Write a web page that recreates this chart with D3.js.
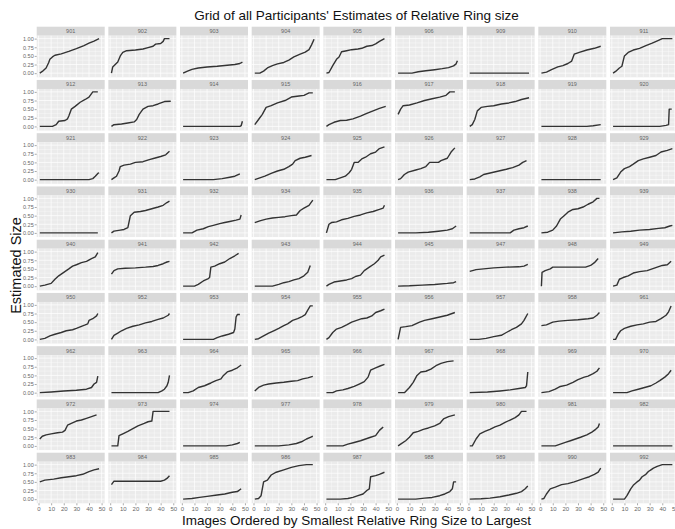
<!DOCTYPE html>
<html>
<head>
<meta charset="utf-8">
<title>Grid of all Participants' Estimates of Relative Ring size</title>
<script src="https://d3js.org/d3.v7.min.js"></script>
<style>
body { margin: 0; background: #fff; }
text { font-family: "Liberation Sans", Arial, sans-serif; }
</style>
</head>
<body>
<div id="chart"></div>
<script>

// participant ids, panel order (9 per row)
var participants = [901, 902, 903, 904, 905, 906, 909, 910, 911,
                    912, 913, 914, 915, 916, 917, 918, 919, 920,
                    921, 922, 923, 924, 925, 926, 927, 928, 929,
                    930, 931, 932, 934, 935, 936, 937, 938, 939,
                    940, 941, 942, 943, 944, 945, 947, 948, 949,
                    950, 952, 953, 954, 955, 956, 957, 958, 961,
                    962, 963, 964, 965, 966, 967, 968, 969, 970,
                    972, 973, 974, 977, 978, 979, 980, 981, 982,
                    983, 984, 985, 986, 987, 988, 989, 990, 992];

// estimated size per image rank as [rank, size]
var row1 = [
  [[1,0],[3,0.05],[6,0.15],[8,0.3],[9,0.4],[11,0.47],[13,0.52],[18,0.56],[24,0.63],[30,0.71],[36,0.8],[40,0.87],[44,0.93],[48,1]],
  [[1,0],[2,0.18],[4,0.25],[6,0.32],[8,0.5],[10,0.6],[13,0.65],[20,0.67],[26,0.7],[30,0.74],[34,0.78],[36,0.84],[40,0.86],[42,0.92],[43,1],[47,1]],
  [[1,0],[4,0.05],[8,0.11],[13,0.15],[20,0.18],[28,0.2],[36,0.23],[42,0.25],[46,0.28],[48,0.32]],
  [[1,0],[5,0],[8,0.06],[11,0.15],[15,0.22],[19,0.27],[24,0.31],[28,0.38],[32,0.47],[37,0.55],[41,0.61],[44,0.68],[46,0.82],[48,0.98]],
  [[1,0],[3,0.02],[6,0.22],[9,0.4],[11,0.47],[13,0.62],[17,0.65],[21,0.68],[26,0.7],[29,0.72],[33,0.78],[37,0.8],[40,0.85],[43,0.92],[47,1]],
  [[1,0],[12,0],[17,0.04],[23,0.07],[30,0.1],[36,0.13],[41,0.16],[45,0.21],[47,0.27],[48,0.36]],
  [[1,0],[48,0]],
  [[1,0],[5,0.03],[9,0.1],[14,0.18],[18,0.22],[22,0.28],[25,0.35],[27,0.55],[31,0.6],[37,0.67],[43,0.72],[48,0.78]],
  [[1,0],[3,0.05],[6,0.15],[8,0.2],[10,0.5],[13,0.6],[17,0.67],[22,0.72],[27,0.8],[32,0.87],[37,0.95],[40,1],[48,1]]
];
var row2 = [
  [[1,0],[11,0],[14,0.05],[16,0.15],[21,0.17],[23,0.22],[24,0.3],[26,0.5],[29,0.58],[33,0.7],[37,0.78],[40,0.85],[43,1],[47,1]],
  [[1,0],[3,0.05],[9,0.07],[14,0.1],[19,0.13],[21,0.2],[23,0.35],[26,0.5],[30,0.58],[34,0.6],[38,0.65],[43,0.72],[48,0.73]],
  [[1,0],[46,0],[47,0.02],[48,0.15]],
  [[1,0.05],[4,0.2],[7,0.35],[10,0.55],[14,0.6],[19,0.68],[25,0.75],[30,0.85],[36,0.88],[40,0.9],[44,0.97],[47,0.97]],
  [[1,0],[3,0.05],[7,0.12],[12,0.17],[17,0.18],[22,0.22],[28,0.3],[33,0.38],[38,0.45],[43,0.52],[48,0.58]],
  [[1,0.35],[3,0.5],[5,0.6],[10,0.62],[16,0.68],[22,0.75],[28,0.8],[34,0.85],[39,0.9],[42,1],[46,1]],
  [[1,0],[3,0.05],[5,0.2],[7,0.45],[10,0.55],[15,0.58],[20,0.6],[26,0.65],[32,0.68],[37,0.72],[42,0.78],[48,0.83]],
  [[1,0],[37,0],[42,0.02],[48,0.05]],
  [[1,0],[38,0],[43,0.03],[45,0.05],[45.5,0.5],[47.5,0.5]]
];
var row3 = [
  [[1,0],[40,0],[43,0.03],[45,0.1],[47,0.18],[48,0.2]],
  [[1,0],[3,0.05],[5,0.1],[7,0.25],[8,0.38],[11,0.42],[16,0.45],[20,0.5],[26,0.52],[31,0.58],[35,0.62],[40,0.67],[44,0.72],[47,0.82]],
  [[1,0],[25,0],[32,0.03],[38,0.07],[42,0.1],[46,0.17]],
  [[1,0],[5,0.05],[9,0.1],[14,0.18],[19,0.25],[24,0.3],[28,0.38],[31,0.45],[33,0.55],[37,0.62],[41,0.65],[46,0.7]],
  [[1,0],[8,0],[12,0.05],[16,0.1],[19,0.2],[21,0.3],[23,0.5],[26,0.5],[29,0.6],[32,0.65],[36,0.75],[40,0.8],[43,0.9],[47,0.95]],
  [[1,0],[3,0.03],[6,0.15],[9,0.22],[15,0.28],[19,0.32],[23,0.38],[26,0.5],[33,0.5],[35,0.55],[40,0.62],[43,0.8],[46,0.92]],
  [[1,0],[5,0.02],[9,0.08],[12,0.15],[18,0.2],[24,0.25],[30,0.3],[35,0.35],[40,0.42],[43,0.5],[46,0.55]],
  [[1,0],[48,0]],
  [[1,0],[4,0.05],[7,0.22],[10,0.32],[14,0.38],[17,0.45],[21,0.55],[25,0.6],[30,0.65],[35,0.7],[39,0.8],[44,0.85],[48,0.9]]
];
var row4 = [
  [[1,0],[47,0]],
  [[1,0],[3,0.05],[8,0.08],[11,0.1],[14,0.15],[16,0.5],[19,0.6],[24,0.62],[28,0.65],[33,0.7],[38,0.75],[42,0.8],[45,0.88],[47,0.92]],
  [[1,0],[8,0],[12,0.08],[17,0.12],[21,0.18],[25,0.22],[30,0.27],[34,0.3],[38,0.33],[43,0.37],[46,0.4],[47,0.52]],
  [[1,0.3],[5,0.35],[10,0.4],[15,0.43],[20,0.45],[25,0.47],[30,0.5],[34,0.52],[37,0.65],[40,0.72],[44,0.8],[47,0.95]],
  [[1,0],[3,0.25],[5,0.3],[9,0.32],[13,0.38],[18,0.42],[23,0.48],[28,0.52],[33,0.58],[38,0.62],[43,0.68],[46,0.72],[47,0.8]],
  [[1,0],[15,0],[25,0.02],[33,0.05],[40,0.08],[44,0.12],[47,0.2]],
  [[1,0],[33,0],[36,0.08],[40,0.12],[44,0.15],[47,0.2]],
  [[1,0],[6,0.02],[10,0.08],[13,0.2],[16,0.4],[19,0.5],[22,0.6],[26,0.68],[30,0.7],[34,0.75],[38,0.83],[42,0.9],[45,1],[47,1]],
  [[1,0],[8,0.03],[15,0.05],[22,0.08],[30,0.1],[37,0.13],[42,0.15],[46,0.2],[48,0.22]]
];
var row5 = [
  [[1,0],[5,0.03],[10,0.08],[13,0.2],[16,0.3],[20,0.4],[24,0.5],[27,0.58],[30,0.62],[34,0.68],[38,0.72],[42,0.8],[45,0.85],[47,0.97]],
  [[1,0.35],[3,0.45],[6,0.5],[12,0.52],[20,0.53],[28,0.55],[34,0.57],[38,0.6],[42,0.65],[45,0.7],[47,0.72]],
  [[1,0],[10,0],[13,0.05],[17,0.15],[21,0.22],[22,0.25],[23,0.55],[26,0.58],[30,0.65],[34,0.7],[38,0.8],[42,0.88],[45,0.95]],
  [[1,0],[15,0],[20,0.05],[24,0.1],[28,0.13],[32,0.18],[36,0.22],[40,0.3],[43,0.4],[45,0.6]],
  [[1,0],[3,0.05],[7,0.12],[12,0.15],[17,0.18],[21,0.22],[24,0.28],[28,0.32],[31,0.45],[35,0.55],[39,0.65],[42,0.75],[44,0.85],[47,0.9]],
  [[1,0],[10,0.01],[20,0.03],[30,0.05],[40,0.08],[45,0.1],[47,0.13]],
  [[1,0.43],[6,0.48],[12,0.5],[20,0.53],[30,0.55],[40,0.56],[44,0.58],[47,0.63]],
  [[1,0],[1.5,0.4],[4,0.45],[8,0.5],[10,0.55],[36,0.55],[40,0.6],[43,0.68],[46,0.8]],
  [[1,0],[4,0.03],[6,0.2],[9,0.25],[13,0.3],[17,0.38],[22,0.42],[28,0.45],[32,0.5],[36,0.55],[40,0.6],[44,0.62],[47,0.72]]
];
var row6 = [
  [[1,0],[5,0.03],[9,0.1],[13,0.15],[18,0.2],[22,0.25],[27,0.28],[30,0.32],[34,0.38],[37,0.42],[39,0.45],[40,0.55],[43,0.6],[46,0.68],[47,0.75]],
  [[1,0],[3,0.12],[6,0.18],[9,0.25],[13,0.32],[18,0.38],[23,0.42],[28,0.48],[33,0.52],[38,0.58],[42,0.62],[46,0.7],[47,0.75]],
  [[1,0],[25,0],[28,0.05],[32,0.1],[37,0.15],[41,0.2],[42,0.3],[43,0.65],[44,0.72],[46,0.72]],
  [[1,0],[4,0.02],[8,0.1],[12,0.18],[16,0.25],[20,0.32],[24,0.4],[27,0.45],[31,0.55],[35,0.6],[38,0.65],[41,0.72],[43,0.85],[45,0.97],[47,0.97]],
  [[1,0],[3,0.05],[6,0.2],[9,0.3],[13,0.35],[17,0.42],[21,0.5],[25,0.55],[29,0.6],[33,0.62],[37,0.68],[40,0.78],[44,0.83],[47,0.88]],
  [[1,0],[3,0.35],[7,0.37],[12,0.4],[15,0.45],[18,0.5],[22,0.55],[28,0.6],[34,0.65],[40,0.7],[46,0.78]],
  [[1,0],[8,0],[14,0.03],[20,0.08],[26,0.12],[30,0.2],[34,0.28],[38,0.35],[42,0.45],[44,0.55],[47,0.75]],
  [[1,0.4],[5,0.42],[10,0.5],[15,0.53],[22,0.55],[30,0.57],[38,0.6],[42,0.62],[45,0.7],[47,0.78]],
  [[1,0],[3,0],[5,0.15],[7,0.25],[10,0.32],[15,0.38],[20,0.42],[25,0.45],[30,0.5],[35,0.52],[39,0.6],[43,0.7],[45,0.8],[47,0.97]]
];
var row7 = [
  [[1,0],[10,0.02],[20,0.05],[30,0.07],[38,0.1],[42,0.15],[44,0.25],[46,0.3],[47,0.48]],
  [[1,0],[38,0],[41,0.05],[43,0.1],[45,0.2],[46,0.3],[47,0.5]],
  [[1,0],[5,0],[9,0.05],[13,0.15],[18,0.2],[23,0.28],[27,0.35],[31,0.4],[33,0.5],[36,0.6],[40,0.65],[44,0.72],[47,0.8]],
  [[1,0.05],[4,0.15],[8,0.22],[12,0.25],[18,0.28],[24,0.3],[30,0.33],[35,0.35],[39,0.4],[43,0.43],[47,0.47]],
  [[1,0],[6,0],[9,0.05],[14,0.08],[18,0.12],[23,0.18],[27,0.25],[31,0.32],[34,0.45],[36,0.65],[40,0.72],[44,0.78],[47,0.82]],
  [[1,0],[6,0],[10,0.15],[13,0.3],[16,0.5],[19,0.6],[23,0.62],[27,0.68],[31,0.78],[35,0.85],[40,0.9],[45,0.92]],
  [[1,0],[15,0.02],[25,0.05],[33,0.08],[40,0.12],[45,0.15],[46,0.2],[47,0.6]],
  [[1,0],[7,0.03],[12,0.1],[16,0.18],[21,0.22],[26,0.3],[30,0.38],[35,0.45],[38,0.48],[42,0.55],[45,0.62],[47,0.72]],
  [[1,0],[12,0],[16,0.05],[21,0.1],[26,0.15],[31,0.2],[35,0.28],[38,0.35],[42,0.45],[45,0.55],[47,0.65]]
];
var row8 = [
  [[1,0.2],[3,0.28],[6,0.32],[10,0.35],[15,0.38],[19,0.4],[21,0.45],[23,0.6],[26,0.65],[30,0.72],[34,0.75],[38,0.8],[42,0.85],[46,0.9]],
  [[1,0],[6,0],[7,0.3],[10,0.35],[14,0.42],[18,0.5],[22,0.58],[27,0.65],[30,0.7],[33,0.72],[34,1],[47,1]],
  [[1,0],[35,0],[40,0.03],[44,0.07],[46,0.1]],
  [[1,0],[20,0],[28,0.03],[34,0.07],[38,0.12],[42,0.2],[45,0.25],[47,0.28]],
  [[1,0],[14,0],[18,0.05],[23,0.1],[28,0.15],[32,0.2],[36,0.25],[40,0.3],[43,0.45],[46,0.55]],
  [[1,0],[3,0.05],[7,0.15],[10,0.25],[13,0.38],[17,0.42],[21,0.48],[25,0.52],[30,0.58],[34,0.65],[37,0.78],[41,0.85],[46,0.9]],
  [[1,0],[3,0],[6,0.2],[9,0.35],[13,0.42],[17,0.48],[21,0.55],[25,0.6],[29,0.68],[33,0.75],[37,0.82],[40,0.9],[42,1],[46,1]],
  [[1,0],[12,0],[16,0.05],[20,0.1],[24,0.15],[28,0.2],[32,0.25],[37,0.32],[41,0.4],[44,0.48],[46,0.55],[47,0.65]],
  [[1,0],[48,0]]
];
var row9 = [
  [[1,0.5],[5,0.55],[12,0.58],[18,0.62],[24,0.65],[30,0.68],[35,0.72],[40,0.8],[44,0.85],[48,0.88]],
  [[1,0.42],[3,0.52],[40,0.52],[43,0.55],[45,0.6],[47,0.68]],
  [[1,0],[8,0.02],[14,0.05],[20,0.08],[28,0.12],[34,0.15],[40,0.2],[44,0.22],[47,0.3]],
  [[1,0],[4,0.02],[6,0.1],[8,0.5],[11,0.55],[14,0.7],[18,0.78],[24,0.85],[30,0.92],[36,0.97],[42,1],[47,1]],
  [[1,0],[12,0],[18,0.02],[22,0.05],[26,0.1],[30,0.15],[33,0.25],[35,0.3],[36,0.65],[40,0.68],[43,0.72],[47,0.78]],
  [[1,0],[15,0],[22,0.03],[28,0.05],[34,0.1],[38,0.15],[42,0.22],[44,0.3],[45,0.5],[47,0.5]],
  [[1,0],[10,0.01],[17,0.03],[25,0.07],[32,0.12],[38,0.17],[42,0.22],[45,0.3],[47,0.38]],
  [[1,0],[3,0.02],[5,0.15],[8,0.3],[12,0.35],[17,0.42],[22,0.45],[27,0.5],[31,0.55],[35,0.6],[39,0.65],[43,0.72],[46,0.78],[48,0.9]],
  [[1,0],[10,0],[12,0.1],[15,0.3],[17,0.4],[20,0.5],[22,0.55],[24,0.65],[27,0.72],[29,0.8],[31,0.85],[33,0.9],[36,0.95],[40,1],[48,1]]
];

var xTicks = [0, 10, 20, 30, 40, 50];
var yTicks = [0, 0.25, 0.5, 0.75, 1];

var curves = [].concat(row1, row2, row3, row4, row5, row6, row7, row8, row9);

// layout
var width = 675, height = 529;
var ncol = 9;
var left0 = 36.7, colStep = 71.66, pw = 68;
var top0 = 26.7, rowStep = 53.25, stripH = 9, ph = 41.6;

var svg = d3.select("#chart").append("svg")
  .attr("width", width)
  .attr("height", height);

var x = d3.scaleLinear().domain([-1.45, 52.45]).range([0, pw]);
var y = d3.scaleLinear().domain([-0.12, 1.085]).range([ph, 0]);

var xMinor = [5, 15, 25, 35, 45];
var yMinor = [0.125, 0.375, 0.625, 0.875];

var line = d3.line()
  .x(function(d) { return x(d[0]); })
  .y(function(d) { return y(d[1]); });

var nrow = Math.ceil(curves.length / ncol);

curves.forEach(function(pts, i) {
  var c = i % ncol, r = Math.floor(i / ncol);
  var g = svg.append("g")
    .attr("transform", "translate(" + (left0 + c * colStep) + "," + (top0 + r * rowStep) + ")");

  // strip
  g.append("rect")
    .attr("width", pw).attr("height", stripH)
    .attr("fill", "#d9d9d9");
  g.append("text")
    .attr("x", pw / 2).attr("y", stripH / 2 + 2)
    .attr("text-anchor", "middle")
    .attr("font-size", 5.5)
    .attr("fill", "#666")
    .text(participants[i]);

  var p = g.append("g").attr("transform", "translate(0," + stripH + ")");
  p.append("rect")
    .attr("width", pw).attr("height", ph)
    .attr("fill", "#ebebeb");

  // minor grid
  p.selectAll(".xm").data(xMinor).enter().append("line")
    .attr("x1", x).attr("x2", x).attr("y1", 0).attr("y2", ph)
    .attr("stroke", "#fff").attr("stroke-width", 0.35);
  p.selectAll(".ym").data(yMinor).enter().append("line")
    .attr("x1", 0).attr("x2", pw).attr("y1", y).attr("y2", y)
    .attr("stroke", "#fff").attr("stroke-width", 0.35);
  // major grid
  p.selectAll(".xg").data(xTicks).enter().append("line")
    .attr("x1", x).attr("x2", x).attr("y1", 0).attr("y2", ph)
    .attr("stroke", "#fff").attr("stroke-width", 0.7);
  p.selectAll(".yg").data(yTicks).enter().append("line")
    .attr("x1", 0).attr("x2", pw).attr("y1", y).attr("y2", y)
    .attr("stroke", "#fff").attr("stroke-width", 0.7);

  p.append("path")
    .datum(pts)
    .attr("d", line)
    .attr("fill", "none")
    .attr("stroke", "#333")
    .attr("stroke-width", 1.4)
    .attr("stroke-linejoin", "round");

  if (c == 0) {
    var ya = p.append("g")
      .call(d3.axisLeft(y).tickValues(yTicks).tickSize(2).tickPadding(1).tickFormat(d3.format(".2f")));
    ya.select(".domain").remove();
    ya.selectAll("line").attr("stroke", "#555").attr("stroke-width", 0.5);
    ya.selectAll("text").attr("font-size", 5.5).attr("fill", "#666")
      .style("font-family", "'Liberation Sans', Arial, sans-serif");
  }
  if (r == nrow - 1) {
    var xa = p.append("g")
      .attr("transform", "translate(0," + ph + ")")
      .call(d3.axisBottom(x).tickValues(xTicks).tickSize(2).tickPadding(1.5));
    xa.select(".domain").remove();
    xa.selectAll("line").attr("stroke", "#555").attr("stroke-width", 0.5);
    xa.selectAll("text").attr("font-size", 6).attr("fill", "#666")
      .style("font-family", "'Liberation Sans', Arial, sans-serif");
  }
});

// titles
svg.append("text")
  .attr("x", 356.5).attr("y", 20)
  .attr("text-anchor", "middle")
  .attr("font-size", 13.5)
  .attr("fill", "#111")
  .text("Grid of all Participants' Estimates of Relative Ring size");

svg.append("text")
  .attr("x", 356.5).attr("y", 525)
  .attr("text-anchor", "middle")
  .attr("font-size", 13.5)
  .attr("fill", "#111")
  .text("Images Ordered by Smallest Relative Ring Size to Largest");

svg.append("text")
  .attr("transform", "translate(20.5,265.5) rotate(-90)")
  .attr("text-anchor", "middle")
  .attr("font-size", 14.5)
  .attr("fill", "#111")
  .text("Estimated Size");

</script>
</body>
</html>
